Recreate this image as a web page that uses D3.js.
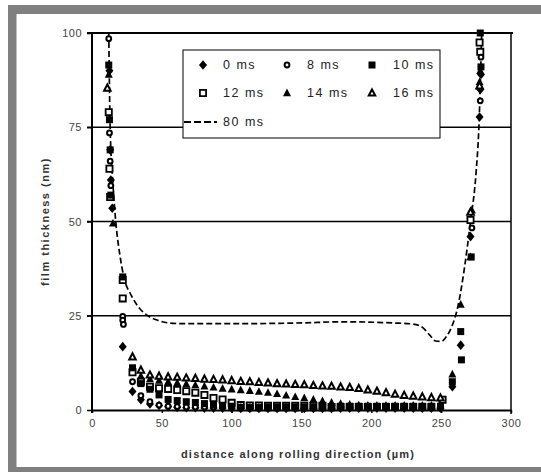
<!DOCTYPE html>
<html>
<head>
<meta charset="utf-8">
<script src="https://cdn.jsdelivr.net/npm/d3@7"></script>
<style>
body { margin: 0; background: #fff; }
svg { display: block; font-family: "Liberation Sans", Arial, sans-serif; }
</style>
</head>
<body>
<svg id="chart" width="541" height="472"></svg>
<script>
// ticks
var xTicks = [0, 50, 100, 150, 200, 250, 300];
var yTicks = [0, 25, 50, 75, 100];

// 0 ms - filled diamonds
var x0ms = [12.5, 13, 13.5, 14.5, 22, 29, 35, 41.5, 48, 54.5, 61, 67.5, 74, 80.5, 87, 93.5, 100, 106.5, 113, 119.5, 126, 132.5, 139, 145.5, 152, 158.5, 165, 171.5, 178, 184.5, 191, 197.5, 204, 210.5, 217, 223.5, 230, 236.5, 243, 249.5, 258, 264, 271, 277.5, 278, 278.5];
var y0ms = [90, 69, 61, 53.5, 16.8,
  4.9, 2.7, 1.6, 1.2, 0.9, 0.7, 0.6, 0.6, 0.5, 0.5, 0.5, 0.5,
  0.4, 0.4, 0.4, 0.4, 0.4, 0.4, 0.4, 0.4, 0.4, 0.4, 0.4, 0.5,
  0.5, 0.5, 0.5, 0.5, 0.5, 0.5, 0.5, 0.5, 0.5, 0.5, 0.5,
  6.2, 17.2, 46, 77.7, 85, 89];

// 8 ms - open circles
var x8ms = [12, 12.5, 13, 13.5, 22, 22, 22.5, 29, 35, 41.5, 48, 54.5, 61, 67.5, 74, 80.5, 87, 93.5, 100, 106.5, 113, 119.5, 126, 132.5, 139, 145.5, 152, 158.5, 165, 171.5, 178, 184.5, 191, 197.5, 204, 210.5, 217, 223.5, 230, 236.5, 243, 249.5, 272, 278, 278.5];
var y8ms = [98.5, 73.5, 66, 59.5, 24.8, 23.8, 22.7,
  7.5, 3.8, 2.2, 1.3, 1.0, 0.9, 0.8, 0.8, 0.8, 0.8, 0.8, 0.8,
  0.8, 0.8, 0.8, 0.8, 0.8, 0.8, 0.8, 0.8, 0.8, 0.8, 0.8, 0.8,
  0.8, 0.8, 0.8, 0.8, 0.8, 0.8, 0.8, 0.8, 0.8, 0.8, 0.8,
  48.3, 82, 93.6];

// 12 ms - open squares
var x12ms = [12, 12.5, 13, 22, 22, 29, 35, 41.5, 48, 54.5, 61, 67.5, 74, 80.5, 87, 93.5, 100, 106.5, 113, 119.5, 126, 132.5, 139, 145.5, 152, 158.5, 165, 171.5, 178, 184.5, 191, 197.5, 204, 210.5, 217, 223.5, 230, 236.5, 243, 251, 271, 277.5, 278];
var y12ms = [79, 64, 56.5, 34.5, 29.6,
  10, 7.5, 6.2, 5.8, 5.6, 5.3, 5.0, 4.6, 4.0, 3.2, 2.8, 1.9,
  1.3, 1.2, 1.2, 1.1, 1.1, 1.1, 1.1, 1.1, 1.1, 1.1, 0.8, 0.8,
  0.8, 0.8, 0.8, 0.8, 0.8, 0.8, 0.8, 0.8, 0.8, 0.8,
  2.7, 50.4, 97.5, 95];

// 10 ms - filled squares
var x10ms = [12, 12.5, 13, 13.5, 22, 29, 35, 41.5, 48, 54.5, 61, 67.5, 74, 80.5, 87, 93.5, 100, 106.5, 113, 119.5, 126, 132.5, 139, 145.5, 152, 158.5, 165, 171.5, 178, 184.5, 191, 197.5, 204, 210.5, 217, 223.5, 230, 236.5, 243, 249.5, 258, 264, 264.5, 271.5, 278, 278.5];
var y10ms = [91.5, 77, 69, 57, 35.3,
  11.2, 7, 5.5, 4, 2.8, 2.5, 2.2, 2.0, 1.7, 1.4, 1.2, 1.0,
  0.6, 0.6, 0.6, 0.6, 0.6, 0.6, 0.6, 0.6, 0.6, 0.6, 0.6, 1.0,
  1.0, 1.0, 1.0, 1.0, 1.0, 1.0, 1.0, 1.0, 1.0, 1.0, 1.0,
  7.5, 20.8, 13.3, 40.6, 100, 91];

// 14 ms - filled triangles
var x14ms = [12, 15, 35, 41.5, 48, 54.5, 61, 67.5, 74, 80.5, 87, 93.5, 100, 106.5, 113, 119.5, 126, 132.5, 139, 145.5, 152, 158.5, 165, 171.5, 178, 184.5, 191, 197.5, 204, 210.5, 217, 223.5, 230, 236.5, 243, 249.5, 258, 264, 271, 272, 277.5, 278];
var y14ms = [89, 49.5,
  9.0, 8.2, 7.8, 7.5, 7.2, 6.9, 6.6, 6.3, 6.0, 5.7, 5.5,
  5.3, 5.1, 4.9, 4.6, 4.3, 3.9, 3.5, 3.2, 2.8, 2.4, 2.0, 1.7,
  1.5, 1.3, 1.2, 1.2, 1.2, 1.2, 1.2, 1.2, 1.2, 1.2, 1.2,
  9.5, 28, 40.6, 53, 87, 90];

// 16 ms - open triangles
var x16ms = [11, 29, 35, 41.5, 48, 54.5, 61, 67.5, 74, 80.5, 87, 93.5, 100, 106.5, 113, 119.5, 126, 132.5, 139, 145.5, 152, 158.5, 165, 171.5, 178, 184.5, 191, 197.5, 204, 210.5, 217, 223.5, 230, 236.5, 243, 249.5, 271, 277.5];
var y16ms = [85.4,
  14.1, 10.6, 9.3, 9.0, 8.8, 8.7, 8.5, 8.4, 8.2, 8.1, 8.0, 7.8,
  7.6, 7.5, 7.3, 7.2, 7.0, 6.9, 6.8, 6.7, 6.5, 6.4, 6.3, 6.1,
  6.0, 5.7, 5.3, 5.0, 4.6, 4.2, 3.9, 3.7, 3.5, 3.3, 3.2,
  52.5, 86];

// 80 ms - dashed curve
var x80ms = [12, 13, 15, 17, 20, 23, 28, 34, 40, 47, 55, 65, 100, 150, 180, 215, 230, 237, 242, 246, 250, 254, 258, 262, 266, 271, 275, 277, 279];
var y80ms = [100, 75, 60, 50, 41, 35, 30.5, 27, 25, 23.8, 23.1, 22.9, 22.9, 23.1, 23.4, 23.1, 22.8, 21.8, 19.8, 18.3, 18.2, 19.6, 22.5, 27.5, 36, 50, 63, 75, 100];

var legendLabels = ['0 ms', '8 ms', '10 ms', '12 ms', '14 ms', '16 ms', '80 ms'];

// custom marker shapes (size = width in px)
var diamond = { draw: function (c, s) { var w = s / 2, h = s * 0.6; c.moveTo(0, -h); c.lineTo(w, 0); c.lineTo(0, h); c.lineTo(-w, 0); c.closePath(); } };
var square = { draw: function (c, s) { var w = s / 2; c.rect(-w, -w, s, s); } };
var triangle = { draw: function (c, s) { var w = s / 2; c.moveTo(0, -w * 1.1); c.lineTo(w, w * 0.8); c.lineTo(-w, w * 0.8); c.closePath(); } };
var circle = { draw: function (c, s) { var r = s / 2; c.moveTo(r, 0); c.arc(0, 0, r, 0, 2 * Math.PI); } };

// legend order
var series = [
  { xs: x0ms, ys: y0ms, type: diamond, size: 8, fill: '#000', sw: 0 },
  { xs: x8ms, ys: y8ms, type: circle, size: 4.8, fill: '#fff', sw: 2 },
  { xs: x10ms, ys: y10ms, type: square, size: 7, fill: '#000', sw: 0 },
  { xs: x12ms, ys: y12ms, type: square, size: 6.2, fill: '#fff', sw: 1.8 },
  { xs: x14ms, ys: y14ms, type: triangle, size: 8, fill: '#000', sw: 0 },
  { xs: x16ms, ys: y16ms, type: triangle, size: 6.5, fill: '#fff', sw: 2 }
];
// drawing order (filled squares over open squares)
var drawOrder = [3, 0, 1, 2, 4, 5];

var svg = d3.select('#chart');

// grey frame
svg.append('rect').attr('x', 8).attr('y', 5).attr('width', 533).attr('height', 9).attr('fill', '#808080');
svg.append('rect').attr('x', 8).attr('y', 5).attr('width', 8.5).attr('height', 467).attr('fill', '#808080');
svg.append('rect').attr('x', 8).attr('y', 467).attr('width', 533).attr('height', 5).attr('fill', '#808080');

var x = d3.scaleLinear().domain([0, 300]).range([92, 511]);
var y = d3.scaleLinear().domain([0, 100]).range([410, 33]);

// horizontal grid lines
svg.append('g').selectAll('line')
  .data(yTicks.filter(function (d) { return d > 0; }))
  .enter().append('line')
  .attr('x1', 87).attr('x2', function (d) { return d == 100 ? 513 : 511; })
  .attr('y1', function (d) { return y(d); }).attr('y2', function (d) { return y(d); })
  .attr('stroke', '#000').attr('stroke-width', function (d) { return d == 100 ? 2 : 1.5; });

// right border
svg.append('line').attr('x1', x(300)).attr('x2', x(300)).attr('y1', y(100)).attr('y2', 414)
  .attr('stroke', '#000').attr('stroke-width', 1.5);

// axes
var yAxis = svg.append('g').attr('transform', 'translate(92,0)')
  .call(d3.axisLeft(y).tickValues(yTicks).tickSize(5).tickSizeOuter(0).tickPadding(5));
var xAxis = svg.append('g').attr('transform', 'translate(0,410)')
  .call(d3.axisBottom(x).tickValues(xTicks).tickSize(3).tickSizeOuter(0).tickPadding(6));

[yAxis, xAxis].forEach(function (g) {
  g.select('.domain').attr('stroke', '#000').attr('stroke-width', 2);
  g.selectAll('.tick line').attr('stroke', '#000').attr('stroke-width', 1.5);
  g.selectAll('.tick text').attr('fill', '#444').style('font-size', '11px')
    .style('font-family', '"Liberation Sans", Arial, sans-serif').style('letter-spacing', '0.5px');
});
yAxis.select('.domain').attr('d', 'M0,' + y(100) + 'V413');

// axis titles
svg.append('text').attr('transform', 'translate(45,' + y(50) + ') rotate(-90)')
  .attr('text-anchor', 'middle').attr('dy', '0.35em')
  .attr('fill', '#333').style('font-size', '11px').style('font-weight', 'bold').style('letter-spacing', '1.5px')
  .text('film thickness (nm)');
svg.append('text').attr('x', 298).attr('y', 458)
  .attr('text-anchor', 'middle')
  .attr('fill', '#333').style('font-size', '11px').style('font-weight', 'bold').style('letter-spacing', '1.2px')
  .text('distance along rolling direction (\u00b5m)');

// 80 ms curve
var line = d3.line()
  .x(function (d) { return x(d[0]); })
  .y(function (d) { return y(d[1]); })
  .curve(d3.curveMonotoneX);
svg.append('path')
  .datum(x80ms.map(function (v, i) { return [v, y80ms[i]]; }))
  .attr('d', line)
  .attr('fill', 'none').attr('stroke', '#000').attr('stroke-width', 1.7).attr('stroke-dasharray', '6,3');

// legend
var lg = svg.append('g');
lg.append('rect').attr('x', 183).attr('y', 50).attr('width', 257).attr('height', 88)
  .attr('fill', '#fff').attr('stroke', '#000').attr('stroke-width', 1);
var colSym = [203, 287, 372], colTxt = [223, 307, 393], rowY = [65, 93, 122];
series.forEach(function (s, i) {
  var cx = colSym[i % 3], cy = rowY[Math.floor(i / 3)];
  lg.append('path')
    .attr('transform', 'translate(' + cx + ',' + cy + ')')
    .attr('d', d3.symbol().type(s.type).size(s.size)())
    .attr('fill', s.fill).attr('stroke', '#000').attr('stroke-width', s.sw);
  lg.append('text').attr('x', colTxt[i % 3]).attr('y', cy).attr('dy', '0.35em')
    .attr('fill', '#222').style('font-size', '12.5px').style('letter-spacing', '1.5px')
    .text(legendLabels[i]);
});
lg.append('line').attr('x1', 184).attr('x2', 217).attr('y1', rowY[2]).attr('y2', rowY[2])
  .attr('stroke', '#000').attr('stroke-width', 2).attr('stroke-dasharray', '7,3');
lg.append('text').attr('x', colTxt[0]).attr('y', rowY[2]).attr('dy', '0.35em')
  .attr('fill', '#222').style('font-size', '12.5px').style('letter-spacing', '1.5px')
  .text(legendLabels[6]);

// markers
drawOrder.forEach(function (k) {
  var s = series[k];
  svg.append('g').selectAll('path')
    .data(s.xs.map(function (v, i) { return [v, s.ys[i]]; }))
    .enter().append('path')
    .attr('transform', function (d) { return 'translate(' + x(d[0]) + ',' + y(d[1]) + ')'; })
    .attr('d', d3.symbol().type(s.type).size(s.size)())
    .attr('fill', s.fill).attr('stroke', '#000').attr('stroke-width', s.sw);
});
</script>
</body>
</html>
